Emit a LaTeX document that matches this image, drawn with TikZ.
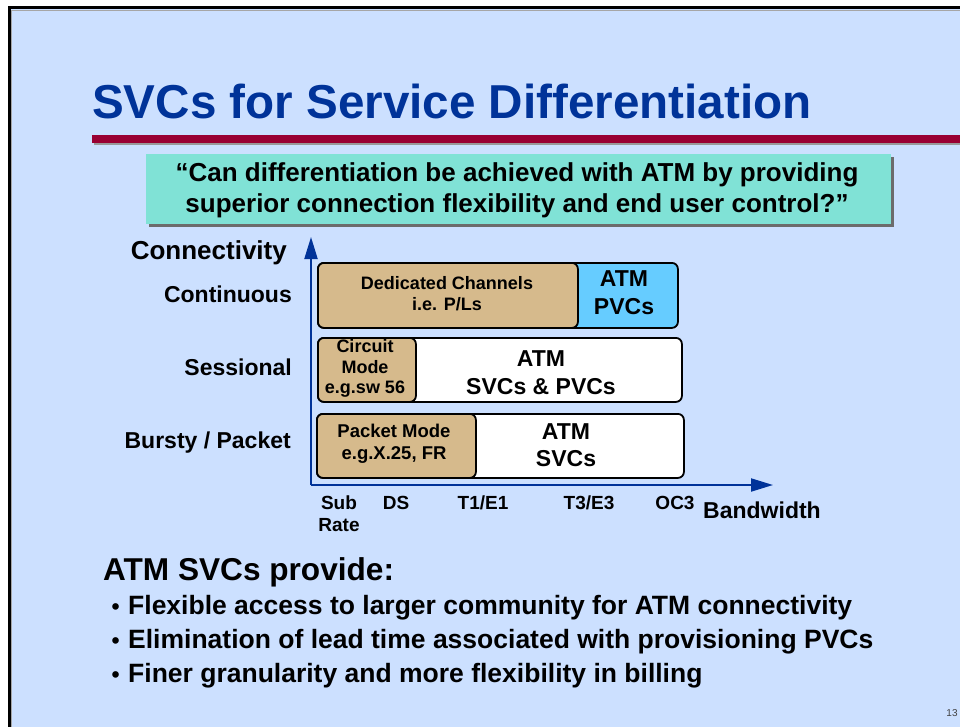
\documentclass[tikz,border=0pt]{standalone}
\usepackage{fontspec}
\setmainfont{Liberation Sans}
\usetikzlibrary{arrows.meta}

\definecolor{slidebg}{RGB}{204,224,255}
\definecolor{titleblue}{RGB}{0,51,153}
\definecolor{barred}{RGB}{153,0,51}
\definecolor{quotefill}{RGB}{128,226,214}
\definecolor{tanfill}{RGB}{214,186,140}
\definecolor{pvcblue}{RGB}{102,204,255}
\definecolor{axisblue}{RGB}{0,51,153}

\newcommand{\fs}[1]{\fontsize{#1}{1.2\dimexpr #1pt\relax}\selectfont\bfseries}

\tikzset{
  band/.style={draw=black, line width=1.8pt, rounded corners=6pt, anchor=north west,
               inner sep=0pt, fill=white},
  legacy/.style={band, fill=tanfill},
  boxtext/.style={align=center, inner sep=0pt, font=\fs{18}},
  bigtext/.style={align=center, inner sep=0pt, font=\fs{23}},
  rowlabel/.style={anchor=east, inner sep=0pt, font=\fs{23}},
  ticklabel/.style={align=center, inner sep=0pt, font=\fs{19}},
  axisline/.style={draw=axisblue, line width=2pt, -{Triangle[length=22pt,width=13pt]}},
  bullettext/.style={anchor=base west, inner sep=0pt, font=\fs{26.5}},
}

\begin{document}
\begin{tikzpicture}[x=1pt,y=-1pt]
  % page and slide frame
  \fill[white] (0,0) rectangle (960,727);
  \useasboundingbox (0,0) rectangle (960,727);
  \fill[slidebg] (9,8) rectangle (960,727);
  \draw[gray!70, line width=1.5pt] (11.5,727) -- (11.5,10.5) -- (960,10.5);
  \draw[black, line width=2.6pt] (9.3,727) -- (9.3,7.3) -- (960,7.3);

  % title and rule
  \node[anchor=base west, inner sep=0pt, text=titleblue, font=\fs{47.6}] (title) at (92,119)
    {SVCs for Service Differentiation};
  \fill[gray!80] (94,137) rectangle (960,145);
  \fill[barred] (92,135) rectangle (960,143);

  % quotation box with drop shadow
  \fill[gray!85!black] (149,157) rectangle (894,227);
  \node[draw=none, fill=quotefill, anchor=north west, minimum width=745pt, minimum height=70pt,
        inner sep=0pt] (quotebox) at (146,154) {};
  \node[align=center, inner sep=0pt, font=\fs{26}] (quote) at (517,190)
    {\fontsize{26}{33}\selectfont\bfseries ``Can differentiation be achieved with ATM by providing\\
     superior connection flexibility and end user control?''};

  % axes
  \coordinate (origin) at (311,485);
  \coordinate (ytip) at (311,237);
  \coordinate (xtip) at (773,485);
  \draw[axisline] (origin) -- (ytip);
  \draw[axisline] (origin) -- (xtip);

  % continuous row
  \node[band, fill=pvcblue, minimum width=360pt, minimum height=65pt] (pvcband) at (317,262) {};
  \node[legacy, minimum width=260pt, minimum height=65pt] (dedicated) at (317,262) {};
  \node[boxtext] (dedtext) at (447,293.5) {Dedicated Channels\\i.e. P/Ls};
  \node[bigtext] (pvctext) at (624,292.5) {ATM\\PVCs};

  % sessional row
  \node[band, minimum width=364pt, minimum height=64pt] (sessband) at (317,337) {};
  \node[legacy, minimum width=98pt, minimum height=64pt] (circuit) at (317,337) {};
  \node[boxtext, font=\fontsize{18}{20.5}\selectfont\bfseries] (circtext) at (365,368.5)
    {Circuit\\Mode\\e.g.sw 56};
  \node[bigtext] (svcpvctext) at (541,372.5) {ATM\\SVCs \& PVCs};

  % bursty row
  \node[band, minimum width=367pt, minimum height=64pt] (burstband) at (316,413) {};
  \node[legacy, minimum width=159pt, minimum height=64pt] (packet) at (316,413) {};
  \node[boxtext, font=\fontsize{18.5}{22}\selectfont\bfseries] (packtext) at (394,444)
    {Packet Mode\\e.g.X.25, FR};
  \node[bigtext] (svctext) at (566,445) {ATM\\SVCs};

  % vertical axis labels
  \node[rowlabel, font=\fs{26}] (connectivity) at (287,253) {Connectivity};
  \node[rowlabel] (continuous) at (292,294) {Continuous};
  \node[rowlabel] (sessional) at (292,367) {Sessional};
  \node[rowlabel] (bursty) at (291,443) {Bursty / Packet};

  % horizontal axis labels
  \node[ticklabel, font=\fontsize{19}{22}\selectfont\bfseries] (subrate) at (339,514) {Sub\\Rate};
  \node[ticklabel] (ds) at (396,503) {DS};
  \node[ticklabel] (t1) at (483,503) {T1/E1};
  \node[ticklabel] (t3) at (589,503) {T3/E3};
  \node[ticklabel] (oc3) at (675,503) {OC3};
  \node[ticklabel, font=\fs{23}] (bandwidth) at (762,510) {Bandwidth};

  % summary
  \node[anchor=base west, inner sep=0pt, font=\fs{31.6}] (provide) at (103,580) {ATM SVCs provide:};
  \node[bullettext] (b1) at (128,614) {Flexible access to larger community for ATM connectivity};
  \node[bullettext] (b2) at (128,648) {Elimination of lead time associated with provisioning PVCs};
  \node[bullettext] (b3) at (128,682) {Finer granularity and more flexibility in billing};
  \foreach \n in {b1,b2,b3}
    \node[anchor=base east, inner sep=0pt, font=\fs{23}] (dot-\n) at ([xshift=-8pt]\n.base west) {•};

  % slide number
  \node[inner sep=0pt, text=black!75, font=\fontsize{10}{12}\selectfont] (pageno) at (952,713) {13};
\end{tikzpicture}
\end{document}
